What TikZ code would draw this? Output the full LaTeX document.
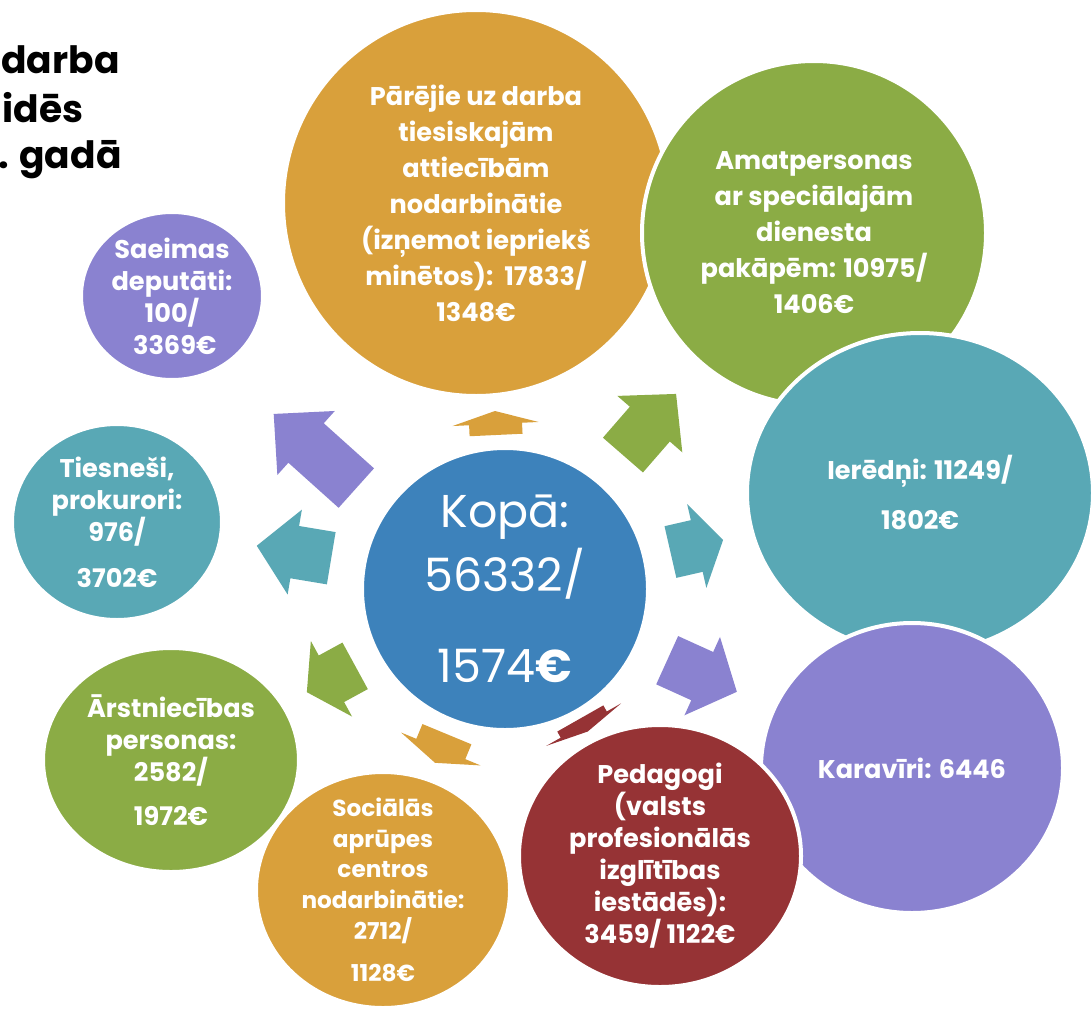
\documentclass[tikz,border=0pt]{standalone}
\usepackage{fontspec}
\setmainfont{Poppins}
\usepackage{tikz}
\usetikzlibrary{shapes.geometric}
\definecolor{bOrange}{HTML}{D9A03B}
\definecolor{bGreen}{HTML}{8BAC45}
\definecolor{bTeal}{HTML}{59A8B5}
\definecolor{bPurple}{HTML}{8A82D0}
\definecolor{bRed}{HTML}{963335}
\definecolor{bBlue}{HTML}{3D82BB}
\tikzstyle{bubble} = [ellipse, draw=white, line width=2pt, inner sep=0pt]
\tikzstyle{bubbletext} = [text=white, font=\bfseries\fontsize{12.8}{16}\selectfont, align=center, inner sep=0pt]
\tikzstyle{titletext} = [font=\bfseries\fontsize{18.8}{24}\selectfont, inner sep=0pt, anchor=base east]

\begin{document}
\begin{tikzpicture}[x=0.5pt,y=-0.5pt]
  \useasboundingbox[fill=white] (0,0) rectangle (1091,1012);
  % Title
  \node[titletext] (title1) at (120,73) {darba};
  \node[titletext] (title2) at (84,122) {idēs};
  \node[titletext] (title3) at (122,168) {. gadā};
  % Bubbles
  \node[bubble, fill=bOrange, minimum width=193pt, minimum height=193pt] (pareji) at (476,203) {};
  \node[bubble, fill=bGreen, minimum width=172pt, minimum height=172pt] (amat) at (814,233) {};
  \node[bubble, fill=bTeal, minimum width=173pt, minimum height=160pt] (ieredni) at (920,493) {};
  \node[bubble, fill=bPurple, minimum width=151pt, minimum height=145pt] (karaviri) at (912,768) {};
  \node[bubble, fill=bRed, minimum width=141pt, minimum height=131pt] (pedagogi) at (660,856) {};
  \node[bubble, fill=bGreen, minimum width=128pt, minimum height=112pt] (arst) at (171,760) {};
  \node[bubble, fill=bOrange, minimum width=127pt, minimum height=118pt] (social) at (383,890) {};
  \node[bubble, fill=bTeal, minimum width=105pt, minimum height=98pt] (tiesnesi) at (117,522) {};
  \node[bubble, fill=bPurple, minimum width=91pt, minimum height=84pt] (saeima) at (172,296) {};
  \node[bubble, fill=bBlue, minimum width=143pt, minimum height=141pt] (kopa) at (505,589) {};
  % Texts
  \node[bubbletext, font=\bfseries\fontsize{12.8}{18}\selectfont] (pareji-t) at (pareji) {Pārējie uz darba\\ tiesiskajām\\ attiecībām\\ nodarbinātie\\ (izņemot iepriekš\\ minētos):\ \ 17833/\\ 1348€};
  \node[bubbletext, font=\bfseries\fontsize{12.8}{18}\selectfont] (amat-t) at (amat) {Amatpersonas\\ ar speciālajām\\ dienesta\\ pakāpēm: 10975/\\ 1406€};
  \node[bubbletext, font=\bfseries\fontsize{12.8}{18}\selectfont] (ieredni-t) at (ieredni) {Ierēdņi: 11249/\\[7pt] 1802€};
  \node[bubbletext] (karaviri-t) at (karaviri) {Karavīri: 6446};
  \node[bubbletext] (pedagogi-t) at (pedagogi) {Pedagogi\\ (valsts\\ profesionālās\\ izglītības\\ iestādēs):\\ 3459/ 1122€};
  \node[bubbletext] (arst-t) at (arst) {Ārstniecības\\ personas:\\ 2582/\\[6pt] 1972€};
  \node[bubbletext, font=\bfseries\fontsize{11.6}{15.3}\selectfont] (social-t) at (social) {Sociālās\\ aprūpes\\ centros\\ nodarbinātie:\\ 2712/\\[6pt] 1128€};
  \node[bubbletext] (tiesnesi-t) at (tiesnesi) {Tiesneši,\\ prokurori:\\ 976/\\[7pt] 3702€};
  \node[bubbletext] (saeima-t) at (saeima) {Saeimas\\ deputāti:\\ 100/\\ \ 3369€};
  \node[bubbletext, font=\fontsize{23}{32}\selectfont] (kopa-t) at (kopa) {Kopā:\\ 56332/\\[13.5pt] 1574\textbf{€}};
  % Arrows
  \foreach \col/\cx/\cy/\ang/\len/\hd in {
    bPurple/315/451/138.1/111/43.5,
    bOrange/495.5/423/92.7/24/13,
    bGreen/649.5/424.5/49/81/40,
    bTeal/696.75/546/12.9/54/27,
    bPurple/702/676/-24.4/76.5/38,
    bRed/584/725/-60.4/15/8,
    bOrange/441/748.5/-112.5/31/15,
    bGreen/331/679/208.6/55/28,
    bTeal/294/552/170.5/75.5/38.5}{
    \fill[\col, shift={(\cx,\cy)}, rotate=\ang] (-\len/2,-26.5) -- (\len/2-\hd,-26.5) -- (\len/2-\hd,-43) -- (\len/2,0) -- (\len/2-\hd,43) -- (\len/2-\hd,26.5) -- (-\len/2,26.5) -- cycle;
  }
\end{tikzpicture}
\end{document}
